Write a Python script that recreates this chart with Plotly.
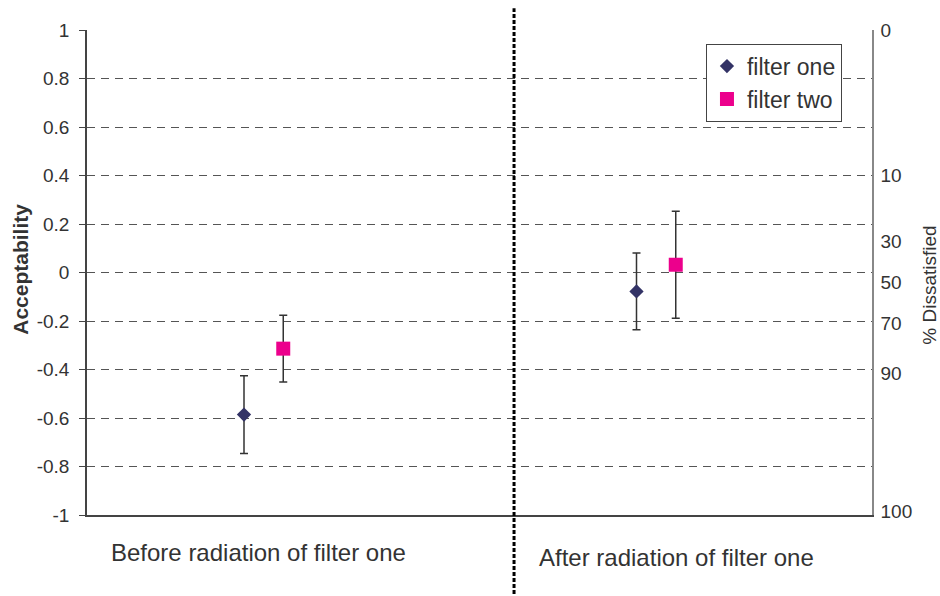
import plotly.graph_objects as go

# ---- data ----
conditions = ["Before radiation of filter one", "After radiation of filter one"]
x_filter_one = [0.4, 1.4]
x_filter_two = [0.5, 1.5]
filter_one_mean = [-0.586, -0.078]
filter_one_err = [0.16, 0.158]
filter_two_mean = [-0.314, 0.032]
filter_two_err = [0.138, 0.221]

left_ticks = [1, 0.8, 0.6, 0.4, 0.2, 0, -0.2, -0.4, -0.6, -0.8, -1]
left_tick_text = ["1", "0.8", "0.6", "0.4", "0.2", "0", "-0.2", "-0.4", "-0.6", "-0.8", "-1"]
right_tick_vals = [1.0, 0.4, 0.128, -0.041, -0.208, -0.414, -0.984]
right_tick_text = ["0", "10", "30", "50", "70", "90", "100"]
divider_x = 1.088

FONT = "Liberation Sans, Arial, sans-serif"
TXT = "#333333"

fig = go.Figure()
fig.add_trace(go.Scatter(
    x=x_filter_one, y=filter_one_mean, mode="markers", name="filter one",
    marker=dict(symbol="diamond", size=11, color="#333366"),
    error_y=dict(type="data", array=filter_one_err, color="#333333", thickness=1.5, width=4),
))
fig.add_trace(go.Scatter(
    x=x_filter_two, y=filter_two_mean, mode="markers", name="filter two",
    marker=dict(symbol="square", size=14, color="#EC008C"),
    error_y=dict(type="data", array=filter_two_err, color="#333333", thickness=1.5, width=4),
))
# invisible trace to activate right axis
fig.add_trace(go.Scatter(x=[0], y=[0], yaxis="y2", mode="markers",
                         marker=dict(opacity=0), showlegend=False, hoverinfo="skip"))

fig.update_layout(
    width=940, height=596,
    margin=dict(l=87, r=68, t=30, b=81),
    paper_bgcolor="white", plot_bgcolor="white",
    font=dict(family=FONT, color=TXT),
    xaxis=dict(range=[0, 2], showgrid=False, zeroline=False, showticklabels=False,
               ticks="", showline=True, linecolor="#444444", linewidth=1.5),
    yaxis=dict(range=[-1, 1], tickvals=left_ticks, ticktext=left_tick_text,
               ticks="outside", ticklen=6,
               tickcolor="#444444", showline=True, linecolor="#444444", linewidth=1.5,
               showgrid=True, gridcolor="#555555", griddash="8px,6px", gridwidth=1,
               zeroline=False, tickfont=dict(size=19, color=TXT), ticklabelstandoff=6),
    yaxis2=dict(range=[-1, 1], overlaying="y", side="right", tickvals=right_tick_vals,
                ticktext=right_tick_text, showgrid=False, zeroline=False,
                showline=True, linecolor="#888888", linewidth=1.5,
                ticks="outside", ticklen=3, tickcolor="rgba(0,0,0,0)",
                tickfont=dict(size=19, color=TXT)),
    legend=dict(x=0.7885, y=0.972, xanchor="left", yanchor="top",
                bordercolor="#444444", borderwidth=1, bgcolor="white",
                font=dict(size=23, color=TXT), itemwidth=30, tracegroupgap=0),
    showlegend=True,
)

fig.add_shape(type="line", xref="x", yref="paper", x0=divider_x, x1=divider_x,
              y0=-0.2, y1=1.045, line=dict(color="black", width=3, dash="4px,2px"))

fig.add_annotation(x=0.438, y=-0.0772, xref="x", yref="paper", text=conditions[0],
                   showarrow=False, font=dict(size=24, color=TXT), xanchor="center", yanchor="middle")
fig.add_annotation(x=1.502, y=-0.0875, xref="x", yref="paper", text=conditions[1],
                   showarrow=False, font=dict(size=24, color=TXT), xanchor="center", yanchor="middle")
fig.add_annotation(x=(21 - 87) / 785, y=(515.5 - 270) / 485.5, xref="paper", yref="paper",
                   text="<b>Acceptability</b>", textangle=-90, showarrow=False,
                   font=dict(size=21, color=TXT), xanchor="center", yanchor="middle")
fig.add_annotation(x=(930 - 87) / 785, y=(515.5 - 286) / 485.5, xref="paper", yref="paper",
                   text="% Dissatisfied", textangle=-90, showarrow=False,
                   font=dict(size=19, color=TXT), xanchor="center", yanchor="middle")

fig.write_html("out.html")
